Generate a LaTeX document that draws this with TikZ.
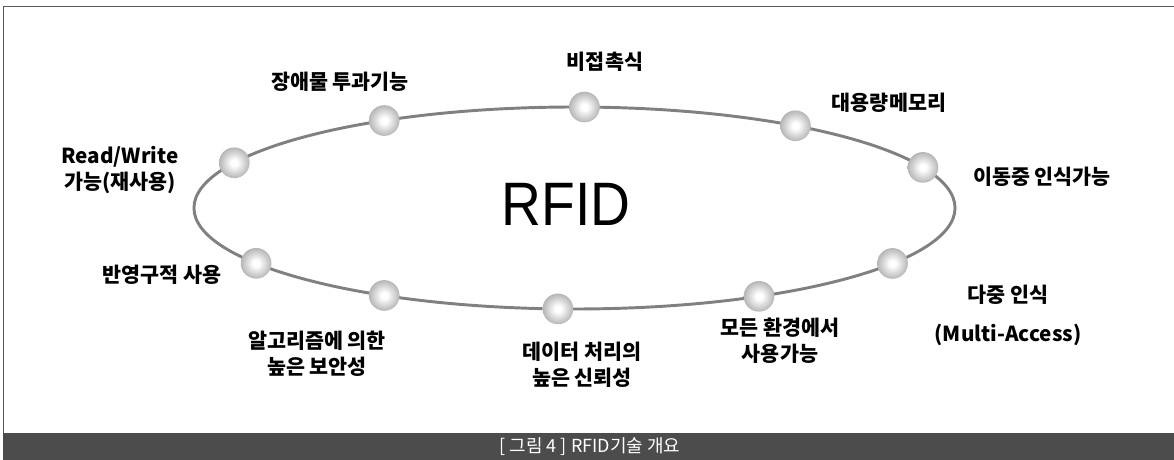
\documentclass[tikz,border=0pt]{standalone}
\usepackage{fontspec}
\setmainfont{Noto Sans CJK KR}
\newfontfamily\rfidfont{Liberation Sans}
\pgfdeclareradialshading{sphere}{\pgfpoint{0bp}{0bp}}{color(0bp)=(white); color(5bp)=(white); color(28bp)=(black!33); color(45bp)=(black!52); color(50bp)=(black!60); color(100bp)=(black!60)}

\begin{document}
\begin{tikzpicture}
			[x=0.75pt,y=-0.75pt,line cap=round,
			%Styles
			ball/.style={circle,inner sep=0pt,minimum size=23pt,shading=sphere},
			feature/.style={align=center,font=\bfseries\fontsize{15.5}{19.5}\selectfont},
			ring/.style={draw=ringgray,line width=2.2pt},
			caption text/.style={text=white,font=\fontsize{13.5}{15}\selectfont}
			]
			
			%Colors
			\colorlet{ringgray}{black!50}	%ellipse line
			\colorlet{framegray}{black!65}	%frame lines
			\colorlet{bargray}{black!70}	%caption bar
			
			\useasboundingbox (0,0) rectangle (1174,460);
			
			%The frame
			\draw[framegray,line width=1.1pt] (3.5,433) -- (3.5,6.5) -- (1174,6.5);
			\fill[bargray] (3,433) rectangle (1174,460);
			\node[caption text] (cap) at (590,447) {[ 그림 4 ] RFID기술 개요};
			
			%The graphic
			\coordinate (ctr) at (574.5,208);
			\draw[ring] (ctr) ellipse [x radius=285.4pt,y radius=75.75pt];
			\node[font=\rfidfont\fontsize{46}{50}\selectfont,xscale=0.9] (rfid) at (566,204) {RFID};
			
			\node[ball] (rw) at ([shift={(153.4:285.4pt and 75.75pt)}]ctr) {};
			\node[ball] (pass) at ([shift={(120:285.4pt and 75.75pt)}]ctr) {};
			\node[ball] (contact) at ([shift={(88.5:285.4pt and 75.75pt)}]ctr) {};
			\node[ball] (memory) at ([shift={(54.5:285.4pt and 75.75pt)}]ctr) {};
			\node[ball] (moving) at ([shift={(23.7:285.4pt and 75.75pt)}]ctr) {};
			\node[ball] (multi) at ([shift={(-33.3:285.4pt and 75.75pt)}]ctr) {};
			\node[ball] (env) at ([shift={(-61:285.4pt and 75.75pt)}]ctr) {};
			\node[ball] (trust) at ([shift={(-92.5:285.4pt and 75.75pt)}]ctr) {};
			\node[ball] (secure) at ([shift={(-120:285.4pt and 75.75pt)}]ctr) {};
			\node[ball] (semi) at ([shift={(-146.8:285.4pt and 75.75pt)}]ctr) {};
			
			\node[feature] (rw text) at (120,170) {Read/Write\\가능(재사용)};
			\node[feature] (pass text) at (340,82) {장애물 투과기능};
			\node[feature] (contact text) at (605,62) {비접촉식};
			\node[feature] (memory text) at (889,103) {대용량메모리};
			\node[feature] (moving text) at (1042,177) {이동중 인식가능};
			\node[feature] (multi text) at (1008,295) {다중 인식};
			\node[feature] (access text) at (1008,335) {(Multi-Access)};
			\node[feature] (env text) at (780,341) {모든 환경에서\\사용가능};
			\node[feature] (trust text) at (582,365) {데이터 처리의\\높은 신뢰성};
			\node[feature] (secure text) at (317,354) {알고리즘에 의한\\높은 보안성};
			\node[feature] (semi text) at (162,275) {반영구적 사용};
		\end{tikzpicture}
\end{document}
